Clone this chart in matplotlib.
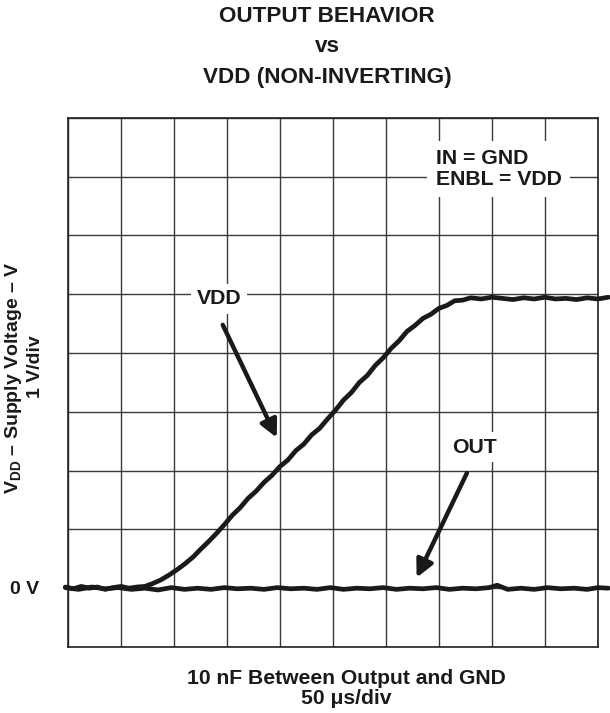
import numpy as np
import matplotlib
matplotlib.use('Agg')
import matplotlib.pyplot as plt

plt.rcParams['font.family'] = ['Liberation Sans', 'DejaVu Sans']
plt.rcParams['font.weight'] = 'bold'
plt.rcParams['mathtext.fontset'] = 'custom'
plt.rcParams['mathtext.rm'] = 'Liberation Sans:bold'
plt.rcParams['mathtext.bf'] = 'Liberation Sans:bold'

# time in divisions (50 us/div), voltage in V (1 V/div)
vdd_t = [-0.05, 0.1, 0.25, 0.4, 0.55, 0.7, 0.85, 1.0, 1.15, 1.3,
         1.45, 1.6, 1.75, 1.9, 2.05, 2.2, 2.36, 2.5, 2.65, 2.8,
         2.95, 3.1, 3.25, 3.4, 3.55, 3.7, 3.85, 4.0, 4.15, 4.3,
         4.45, 4.6, 4.75, 4.9, 5.05, 5.2, 5.35, 5.5, 5.65, 5.8,
         5.95, 6.1, 6.25, 6.4, 6.55, 6.7, 6.85, 7.0, 7.15, 7.3,
         7.45, 7.6, 7.8, 8.0, 8.2, 8.4, 8.6, 8.8, 9.0, 9.2,
         9.4, 9.6, 9.8, 10.0, 10.2]
vdd_v = [0.02, -0.01, 0.03, 0.0, 0.02, -0.02, 0.01, 0.03, 0.0, 0.02,
         0.03, 0.08, 0.14, 0.22, 0.31, 0.41, 0.53, 0.66, 0.79, 0.93,
         1.08, 1.24, 1.37, 1.53, 1.65, 1.80, 1.92, 2.07, 2.18, 2.34,
         2.45, 2.61, 2.72, 2.88, 3.03, 3.20, 3.33, 3.50, 3.62, 3.79,
         3.92, 4.08, 4.21, 4.37, 4.47, 4.59, 4.66, 4.76, 4.81, 4.89,
         4.90, 4.94, 4.92, 4.95, 4.93, 4.91, 4.94, 4.92, 4.95, 4.92,
         4.93, 4.91, 4.94, 4.92, 4.95]

out_t = [-0.05, 0.2, 0.45, 0.7, 0.95, 1.2, 1.45, 1.7, 1.95, 2.2,
         2.45, 2.7, 2.95, 3.2, 3.45, 3.7, 3.95, 4.2, 4.45, 4.7,
         4.95, 5.2, 5.45, 5.7, 5.95, 6.2, 6.45, 6.7, 6.95, 7.2,
         7.45, 7.7, 7.95, 8.1, 8.3, 8.55, 8.8, 9.05, 9.3, 9.55,
         9.8, 10.0, 10.2]
out_v = [0.01, -0.02, 0.02, -0.01, 0.01, -0.02, 0.0, -0.03, 0.01, -0.02,
         0.0, -0.02, 0.01, -0.01, 0.0, -0.02, 0.01, -0.01, 0.0, -0.02,
         0.01, -0.02, 0.0, -0.01, 0.01, -0.02, 0.0, -0.01, 0.01, -0.02,
         0.0, -0.01, 0.01, 0.05, -0.02, 0.0, -0.02, 0.01, -0.01, 0.0,
         -0.02, 0.01, 0.0]

fig = plt.figure(figsize=(6.10, 7.13), dpi=100)
ax = fig.add_axes([0.1115, 0.0926, 0.8685, 0.742])

ax.set_xlim(0, 10)
ax.set_ylim(-1, 8)
ax.set_xticks(np.arange(0, 11, 1))
ax.set_yticks(np.arange(-1, 9, 1))
ax.tick_params(length=0, labelbottom=False, labelleft=False)
ax.grid(True, color='#3a3a3a', lw=1.0)
ax.set_axisbelow(True)
for s in ax.spines.values():
    s.set_color('#222222')
    s.set_linewidth(1.2)

ax.plot(out_t, out_v, color='#1a1a1a', lw=3.4, clip_on=False, zorder=3,
        solid_capstyle='round')
ax.plot(vdd_t, vdd_v, color='#1a1a1a', lw=3.4, clip_on=False, zorder=3,
        solid_capstyle='round')

box = dict(facecolor='white', edgecolor='none', pad=4)
ax.text(2.85, 4.92, 'VDD', ha='center', va='center', fontsize=15.3,
        fontweight='bold', color='#1a1a1a', bbox=box, zorder=4)
ax.annotate('', xy=(3.94, 2.56), xytext=(2.92, 4.48),
            arrowprops=dict(arrowstyle='-|>', lw=3.2, color='#1a1a1a',
                            mutation_scale=26, shrinkA=0, shrinkB=0), zorder=4)
ax.text(7.68, 2.40, 'OUT', ha='center', va='center', fontsize=15.3,
        fontweight='bold', color='#1a1a1a', bbox=box, zorder=4)
ax.annotate('', xy=(6.58, 0.18), xytext=(7.53, 1.96),
            arrowprops=dict(arrowstyle='-|>', lw=3.2, color='#1a1a1a',
                            mutation_scale=26, shrinkA=0, shrinkB=0), zorder=4)
ax.text(6.94, 7.13, 'IN = GND\nENBL = VDD', ha='left', va='center',
        fontsize=15.3, fontweight='bold', color='#1a1a1a', linespacing=1.15,
        bbox=dict(facecolor='white', edgecolor='none', pad=6), zorder=4)

tx = 327 / 610
fig.text(tx, 1 - 17/713, 'OUTPUT BEHAVIOR', ha='center', va='center',
         fontsize=16.2, fontweight='bold', color='#1a1a1a')
fig.text(tx, 1 - 47/713, 'vs', ha='center', va='center',
         fontsize=16.2, fontweight='bold', color='#1a1a1a')
fig.text(tx, 1 - 77/713, 'VDD (NON-INVERTING)', ha='center', va='center',
         fontsize=16.2, fontweight='bold', color='#1a1a1a')

fig.text(14/610, 1 - 378/713, r'V$_{\mathrm{DD}}$ – Supply Voltage – V',
         rotation=90, ha='center', va='center', fontsize=14,
         fontweight='bold', color='#1a1a1a')
fig.text(36/610, 1 - 367/713, '1 V/div', rotation=90, ha='center',
         va='center', fontsize=14, fontweight='bold', color='#1a1a1a')
fig.text(25/610, 1 - 589/713, '0 V', ha='center', va='center',
         fontsize=14, fontweight='bold', color='#1a1a1a')

bx = 346 / 610
fig.text(bx, 1 - 678/713, '10 nF Between Output and GND', ha='center',
         va='center', fontsize=15.2, fontweight='bold', color='#1a1a1a')
fig.text(bx, 1 - 698/713, '50 μs/div', ha='center', va='center',
         fontsize=15.2, fontweight='bold', color='#1a1a1a')

fig.savefig('out.png', dpi=100, facecolor='white')
